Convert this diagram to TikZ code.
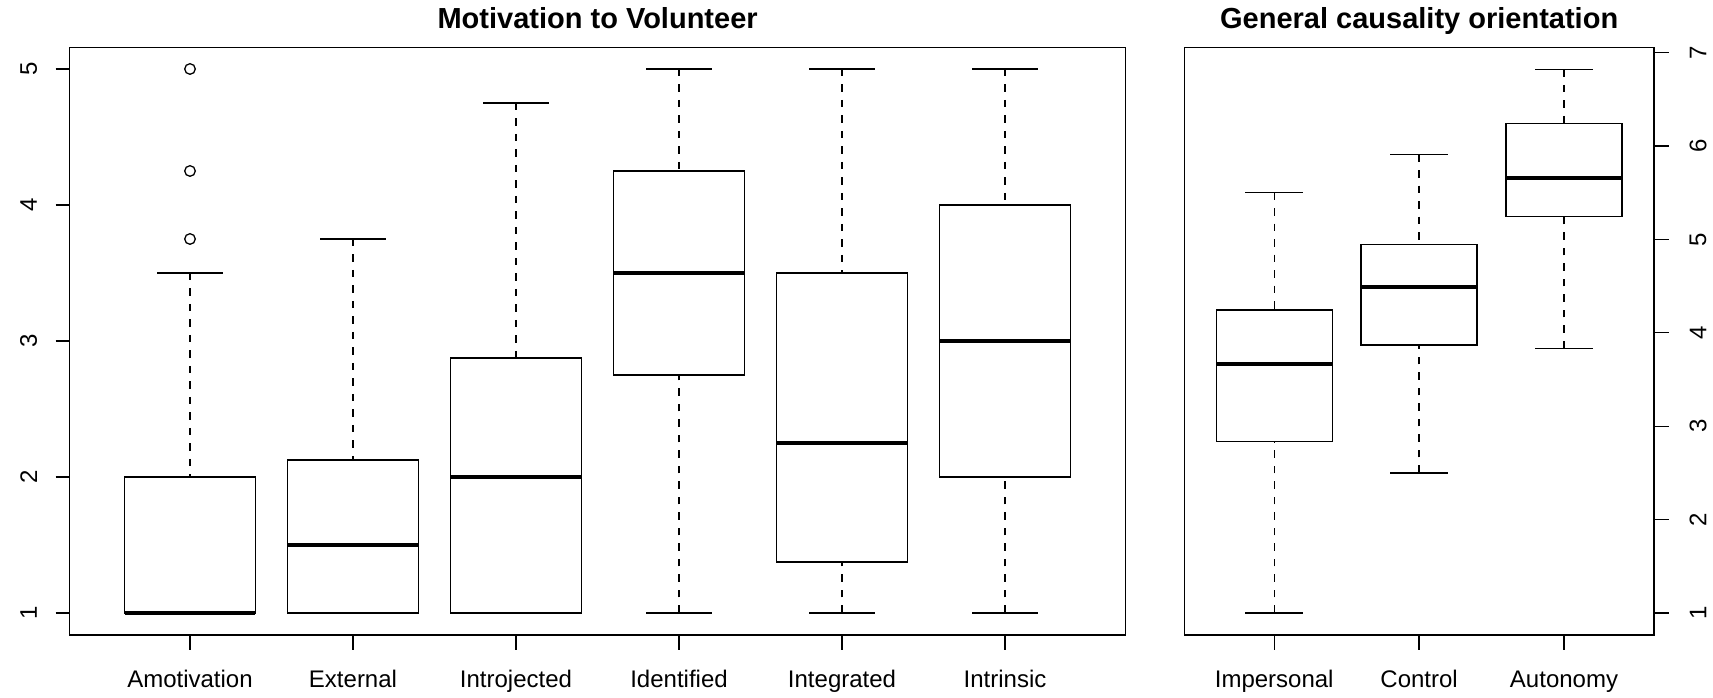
\documentclass[tikz,border=0pt]{standalone}
\usepackage{fontspec}
\setmainfont{Liberation Sans}

% one box-and-whisker glyph: centre x, half box width, low, Q1, median, Q3, high
\newcommand\boxwhisk[7]{%
  \draw[whisk] (#1,#7) -- (#1,#6);
  \draw[whisk] (#1,#3) -- (#1,#4);
  \draw[boxline] ({#1-#2/2},#7) -- ({#1+#2/2},#7);
  \draw[boxline] ({#1-#2/2},#3) -- ({#1+#2/2},#3);
  \draw[boxline,fill=white] ({#1-#2},#4) rectangle ({#1+#2},#6);
  \draw[medline] ({#1-#2},#5) -- ({#1+#2},#5);
}

\begin{document}
\begin{tikzpicture}[x=1pt,y=1pt,
  frame/.style={line width=1.5pt},
  boxline/.style={line width=1.3pt},
  whisk/.style={line width=1.3pt,dash pattern=on 7.5pt off 8pt},
  medline/.style={line width=3.8pt},
  tickline/.style={line width=1.3pt},
  outl/.style={line width=1.3pt},
  ticklab/.style={font=\fontsize{24}{24}\selectfont,inner sep=0pt},
  xlab/.style={font=\fontsize{24}{24}\selectfont,inner sep=0pt,anchor=base},
  paneltitle/.style={font=\fontsize{29}{29}\selectfont\bfseries,inner sep=0pt,anchor=base}]
\path[use as bounding box,fill=white] (0,0) rectangle (1713,698);

% ---------- left panel: motivation to volunteer (scale 1..5) ----------
\begin{scope}[y=136pt,yshift=-51pt]
  \boxwhisk{190}{65.2}{1}{1}{1}{2}{3.5}
  \draw[outl] (190,3.75) circle[radius=5.3pt];
  \draw[outl] (190,4.25) circle[radius=5.3pt];
  \draw[outl] (190,5) circle[radius=5.3pt];
  \boxwhisk{353}{65.2}{1}{1}{1.5}{2.125}{3.75}
  \boxwhisk{516}{65.2}{1}{1}{2}{2.875}{4.75}
  \boxwhisk{679}{65.2}{1}{2.75}{3.5}{4.25}{5}
  \boxwhisk{842}{65.2}{1}{1.375}{2.25}{3.5}{5}
  \boxwhisk{1005}{65.2}{1}{2}{3}{4}{5}
  \foreach \v in {1,...,5} {
    \draw[tickline] (55.5,\v) -- (69.6,\v);
    \node[ticklab,rotate=90] (ly\v) at (28.7,\v) {\v};
  }
\end{scope}
\draw[frame] (69.6,63) rectangle (1125.6,650.3);
\foreach \c/\t [count=\i] in {190/Amotivation,353/External,516/Introjected,679/Identified,842/Integrated,1005/Intrinsic} {
  \draw[tickline] (\c,63) -- (\c,48);
  \node[xlab] (lx\i) at (\c,10.7) {\t};
}
\node[paneltitle] (lt) at (597.6,669.7) {Motivation to Volunteer};

% ---------- right panel: general causality orientation (scale 1..7) ----------
\begin{scope}[y=93.4pt,yshift=-8.4pt]
  \boxwhisk{1274.2}{58}{1}{2.834}{3.666}{4.244}{5.5}
  \boxwhisk{1419.1}{58}{2.5}{3.869}{4.494}{4.947}{5.907}
  \boxwhisk{1564}{58}{3.834}{5.243}{5.654}{6.239}{6.82}
  \foreach \v in {1,...,7} {
    \draw[tickline] (1654,\v) -- (1668.8,\v);
    \node[ticklab,rotate=90] (ry\v) at (1698,\v) {\v};
  }
\end{scope}
\draw[frame] (1184.4,63) rectangle (1654,650.3);
\foreach \c/\t [count=\i] in {1274.2/Impersonal,1419.1/Control,1564/Autonomy} {
  \draw[tickline] (\c,63) -- (\c,48);
  \node[xlab] (rx\i) at (\c,10.7) {\t};
}
\node[paneltitle] (rt) at (1419.2,669.7) {General causality orientation};
\end{tikzpicture}
\end{document}
